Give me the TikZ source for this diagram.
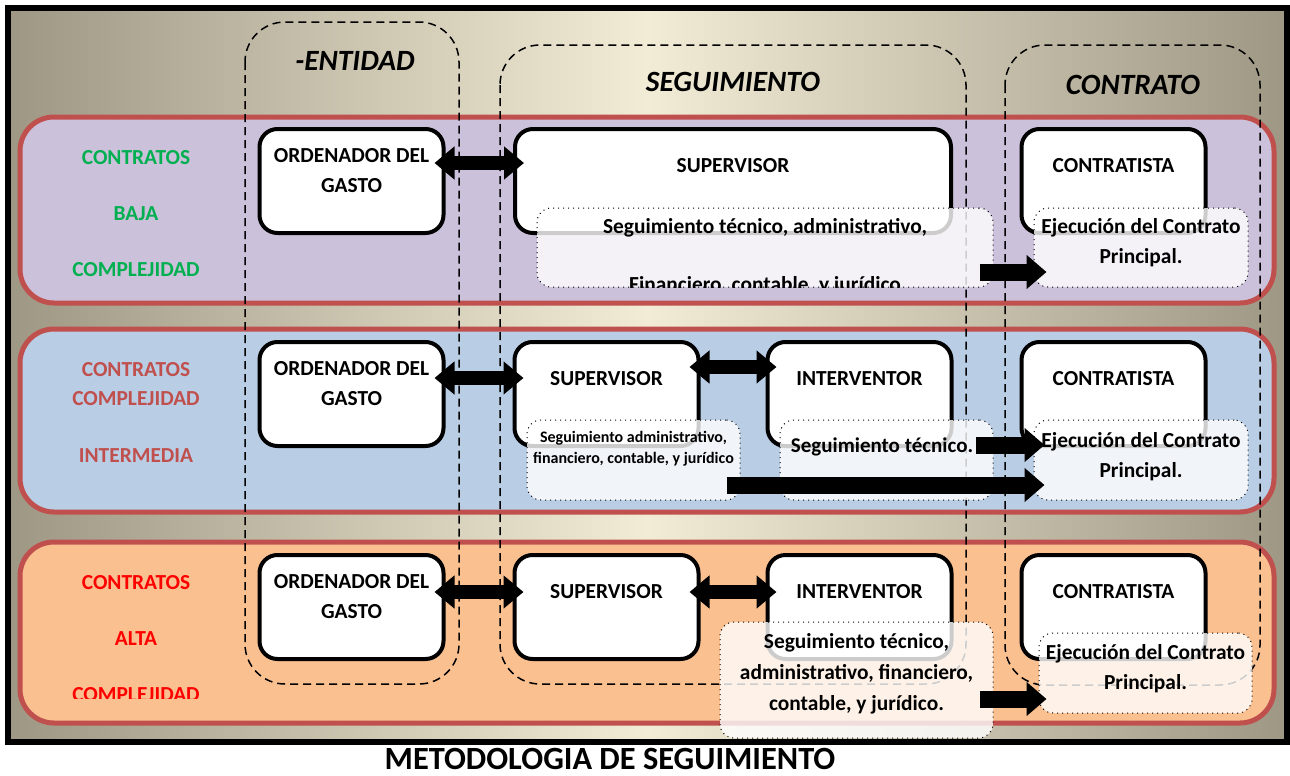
\documentclass[tikz,border=0pt]{standalone}
\usepackage{fontspec}
\setmainfont{Carlito}
\usetikzlibrary{arrows.meta}

\definecolor{fondoosc}{HTML}{9E9784}
\definecolor{fondoclaro}{HTML}{F2ECD6}
\definecolor{bordefila}{HTML}{C0504D}
\definecolor{filabaja}{HTML}{CCC1DA}
\definecolor{filamedia}{HTML}{B9CDE5}
\definecolor{filaalta}{HTML}{FAC090}
\definecolor{verde}{HTML}{00B050}

\begin{document}
\begin{tikzpicture}[x=0.5pt, y=-0.5pt,
	fila/.style={draw=bordefila, line width=2.5pt, rounded corners=17pt},
	columna/.style={draw=black, line width=0.75pt, dash pattern=on 4pt off 2.5pt, rounded corners=20pt},
	caja/.style={draw, line width=2pt, fill=white, rounded corners=9pt, minimum width=92pt, minimum height=52pt, inner sep=0pt},
	velo/.style={draw, dotted, line width=0.5pt, fill=white, fill opacity=0.8, rounded corners=7pt, inner sep=0pt},
	texto/.style={font=\fontsize{10.7}{15}\selectfont\bfseries, align=center, inner sep=0pt, text opacity=1},
	encabezado/.style={font=\fontsize{14.7}{17}\selectfont\bfseries\itshape, inner sep=0pt, anchor=base},
	doble/.style={line width=7pt, {Triangle[length=10pt, width=16pt]}-{Triangle[length=10pt, width=16pt]}},
	flecha/.style={line width=8.5pt, -{Triangle[length=10pt, width=16.5pt]}}]

	\useasboundingbox (0,0) rectangle (1290,776);

	\shade[left color=fondoosc, right color=fondoosc, middle color=fondoclaro] (8,8) rectangle (1287,742);
	\draw[line width=3pt] (8,8) rectangle (1287,742);

	\draw[fila, fill=filabaja] (20,117) rectangle (1274,303);
	\draw[fila, fill=filamedia] (20,329) rectangle (1274,512);
	\draw[fila, fill=filaalta] (20,542) rectangle (1274,723);

	\draw[columna] (245,22) rectangle (459,684);
	\draw[columna] (500,45) rectangle (966,684);
	\draw[columna] (1005,45) rectangle (1260,685);

	\node[encabezado] (H-00) at (355,70.5) {-ENTIDAD};
	\node[encabezado] (H-01) at (733,91.5) {SEGUIMIENTO};
	\node[encabezado] (H-02) at (1133,94.5) {CONTRATO};

	\node[texto, text=verde, anchor=north] (R1-L) at (136,150) {CONTRATOS\\[13pt]BAJA\\[13pt]COMPLEJIDAD};
	\node[texto, text=bordefila, anchor=north] (R2-L) at (136,362) {CONTRATOS\\[-0.5pt]COMPLEJIDAD\\[13.5pt]INTERMEDIA};
	\begin{scope}
		\clip (20,540) rectangle (300,698);
		\node[texto, text=red, anchor=north] (R3-L) at (136,575) {CONTRATOS\\[13pt]ALTA\\[13pt]COMPLEJIDAD};
	\end{scope}

	\node[caja, label={[texto, yshift=5pt]center:{ORDENADOR DEL\\GASTO}}] (R1-00) at (351.5,181) {};
	\node[caja, minimum width=218pt, label={[texto, yshift=7.5pt]center:SUPERVISOR}] (R1-01) at (733,181) {};
	\node[caja, label={[texto, yshift=7.5pt]center:CONTRATISTA}] (R1-03) at (1113.5,181) {};

	\node[caja, label={[texto, yshift=5pt]center:{ORDENADOR DEL\\GASTO}}] (R2-00) at (351.5,394) {};
	\node[caja, label={[texto, yshift=7.5pt]center:SUPERVISOR}] (R2-01) at (606.5,394) {};
	\node[caja, label={[texto, yshift=7.5pt]center:INTERVENTOR}] (R2-02) at (859.5,394) {};
	\node[caja, label={[texto, yshift=7.5pt]center:CONTRATISTA}] (R2-03) at (1113.5,394) {};

	\node[caja, label={[texto, yshift=5pt]center:{ORDENADOR DEL\\GASTO}}] (R3-00) at (351.5,607) {};
	\node[caja, label={[texto, yshift=7.5pt]center:SUPERVISOR}] (R3-01) at (606.5,607) {};
	\node[caja, label={[texto, yshift=7.5pt]center:INTERVENTOR}] (R3-02) at (859.5,607) {};
	\node[caja, label={[texto, yshift=7.5pt]center:CONTRATISTA}] (R3-03) at (1113.5,607) {};

	\draw[doble] ([shift={(-11,-18)}]R1-00.east) to ([shift={(11,-18)}]R1-01.west);

	\draw[doble] ([shift={(-11,-16)}]R2-00.east) to ([shift={(11,-16)}]R2-01.west);
	\draw[doble] ([shift={(-11,-27)}]R2-01.east) to ([shift={(11,-27)}]R2-02.west);

	\draw[doble] ([shift={(-11,-15)}]R3-00.east) to ([shift={(11,-15)}]R3-01.west);
	\draw[doble] ([shift={(-11,-15)}]R3-01.east) to ([shift={(11,-15)}]R3-02.west);

	\node[velo, minimum width=228pt, minimum height=39.5pt, label={[texto, yshift=9.75pt]center:{Seguimiento técnico, administrativo,}}] (R1-T01) at (765,247.5) {};
	\begin{scope}
		\clip (R1-T01.south west) rectangle (R1-T01.north east);
		\node[texto, anchor=base] (R1-T01b) at (765,291) {Financiero, contable, y jurídico};
	\end{scope}
	\node[velo, minimum width=107pt, minimum height=39.5pt, label={[texto, yshift=2.25pt]center:{Ejecución del Contrato\\Principal.}}] (R1-T03) at (1141,247.5) {};

	\node[velo, minimum width=106.5pt, minimum height=40pt, label={[texto, font=\fontsize{8}{10.5}\selectfont\bfseries, yshift=5.8pt]center:{Seguimiento administrativo,\\financiero, contable, y jurídico}}] (R2-T01) at (633.5,460) {};
	\node[velo, minimum width=106.5pt, minimum height=40pt, label={[texto, font=\fontsize{10.5}{15}\selectfont\bfseries, xshift=-2.25pt, yshift=6.5pt]center:{Seguimiento técnico.}}] (R2-T02) at (886.5,460) {};
	\node[velo, minimum width=107pt, minimum height=40pt, label={[texto, yshift=1.75pt]center:{Ejecución del Contrato\\Principal.}}] (R2-T03) at (1141,460) {};

	\node[velo, minimum width=136.5pt, minimum height=58pt, label={[texto, font=\fontsize{10.7}{15.5}\selectfont\bfseries, yshift=3pt]center:{Seguimiento técnico,\\administrativo, financiero,\\contable, y jurídico.}}] (R3-T02) at (856.5,680) {};
	\node[velo, minimum width=106.5pt, minimum height=40pt, label={[texto, yshift=2pt]center:{Ejecución del Contrato\\Principal.}}] (R3-T03) at (1145.5,673) {};

	\draw[flecha] ([shift={(-14,24.5)}]R1-T01.east) to ([shift={(13,24.5)}]R1-T03.west);

	\draw[flecha] ([shift={(-18,-15)}]R2-T02.east) to ([shift={(11,-15)}]R2-T03.west);
	\draw[flecha] ([shift={(-14,25)}]R2-T01.east) to ([shift={(11,25)}]R2-T03.west);

	\draw[flecha] ([shift={(-14,19)}]R3-T02.east) to ([shift={(8,26)}]R3-T03.west);

	\node[font=\fontsize{16.2}{19}\selectfont\bfseries, inner sep=0pt, anchor=base] (titulo) at (610,769) {METODOLOGIA DE SEGUIMIENTO};

\end{tikzpicture}
\end{document}
